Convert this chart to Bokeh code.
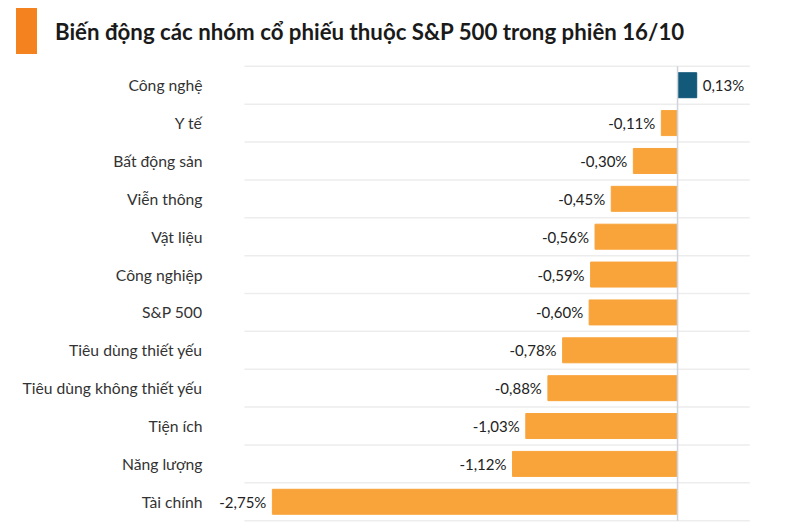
from bokeh.plotting import figure
from bokeh.models import ColumnDataSource, FactorRange, Div
from bokeh.layouts import column
from bokeh.core.properties import value
from bokeh.embed import file_html
from bokeh.resources import INLINE

title_text = "Biến động các nhóm cổ phiếu thuộc S&P 500 trong phiên 16/10"
categories = ["Công nghệ", "Y tế", "Bất động sản", "Viễn thông", "Vật liệu",
              "Công nghiệp", "S&P 500", "Tiêu dùng thiết yếu",
              "Tiêu dùng không thiết yếu", "Tiện ích", "Năng lượng", "Tài chính"]
changes = [0.13, -0.11, -0.30, -0.45, -0.56, -0.59, -0.60, -0.78, -0.88, -1.03, -1.12, -2.75]

POS_COLOR = "#12597A"
NEG_COLOR = "#F9A43B"
GRID_X0, GRID_X1 = -2.94, 0.49

def fmt(v):
    return f"{v:.2f}".replace(".", ",") + "%"

colors = [POS_COLOR if v >= 0 else NEG_COLOR for v in changes]
labels = [fmt(v) for v in changes]

src = ColumnDataSource(dict(cat=categories, val=changes, color=colors, label=labels))
neg = ColumnDataSource(dict(cat=[c for c, v in zip(categories, changes) if v < 0],
                            val=[v for v in changes if v < 0],
                            label=[l for l, v in zip(labels, changes) if v < 0]))
pos = ColumnDataSource(dict(cat=[c for c, v in zip(categories, changes) if v >= 0],
                            val=[v for v in changes if v >= 0],
                            label=[l for l, v in zip(labels, changes) if v >= 0]))

y_range = FactorRange(factors=list(reversed(categories)), range_padding=0.1,
                      range_padding_units="absolute")

p = figure(width=770, height=468, y_range=y_range, x_range=(-3.17, 0.563),
           output_backend="svg", toolbar_location=None,
           min_border_left=210, min_border_right=10, min_border_top=4, min_border_bottom=2)
p.margin = (0, 0, 0, 0)

# separator lines between categories
sep_y = [(categories[0], 0.5)] + [(c, -0.5) for c in categories]
p.segment(x0=[GRID_X0] * len(sep_y), x1=[GRID_X1] * len(sep_y), y0=sep_y, y1=sep_y,
          line_color="#ededed", line_width=1.5)

p.hbar(y="cat", left=0, right="val", height=0.66, fill_color="color", line_color="color",
       source=src)

# zero line
p.segment(x0=[0], x1=[0], y0=[(categories[0], 0.5)], y1=[(categories[-1], -0.5)],
          line_color="#cfd3da", line_width=1.5)

p.text(x="val", y="cat", text="label", source=neg, text_align="right", text_baseline="middle",
       x_offset=-6, text_font=value("Lato"), text_font_size="15px", text_color="#222222")
p.text(x="val", y="cat", text="label", source=pos, text_align="left", text_baseline="middle",
       x_offset=6, text_font=value("Lato"), text_font_size="15px", text_color="#222222")

p.xaxis.visible = False
p.xgrid.grid_line_color = None
p.ygrid.grid_line_color = None
p.outline_line_color = None
p.yaxis.axis_line_color = None
p.yaxis.major_tick_line_color = None
p.yaxis.minor_tick_line_color = None
p.yaxis.major_label_standoff = 2
p.yaxis.major_label_text_font = "Lato"
p.yaxis.major_label_text_font_size = "15.7px"
p.yaxis.major_label_text_color = "#333333"

header = Div(text=(
    '<div style="position:relative;width:770px;height:58px;">'
    '<div style="position:absolute;left:16px;top:8px;width:21px;height:46px;background:#F4821F;"></div>'
    '<div style="position:absolute;left:55px;top:19px;font-family:Lato;font-size:22.25px;'
    'font-weight:bold;line-height:1.2;color:#1a1a1a;white-space:nowrap;">'
    + title_text.replace("&", "&amp;") + '</div></div>'),
    width=770, height=58, margin=(0, 0, 0, 0))

layout = column(header, p, spacing=0)
open("out.html", "w").write(file_html(layout, INLINE))
